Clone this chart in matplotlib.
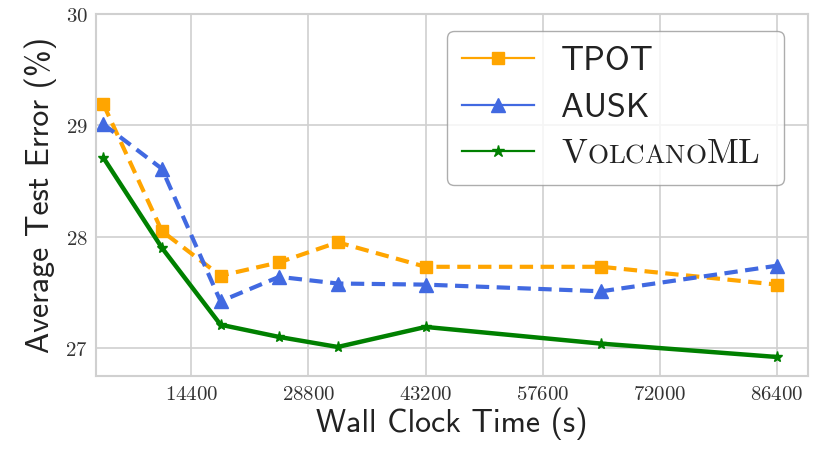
import numpy as np
import matplotlib
matplotlib.use('Agg')
import matplotlib.pyplot as plt
from matplotlib.ticker import FuncFormatter
from matplotlib.lines import Line2D

plt.rcParams['mathtext.fontset'] = 'cm'

######### Data #########
time_s = [3600, 10800, 18000, 25200, 32400, 43200, 64800, 86400]
err_tpot = [29.19, 28.05, 27.65, 27.77, 27.95, 27.73, 27.73, 27.57]
err_ausk = [29.01, 28.61, 27.42, 27.64, 27.58, 27.57, 27.51, 27.74]
err_volcano = [28.71, 27.90, 27.21, 27.10, 27.01, 27.19, 27.04, 26.92]
xticks = [14400, 28800, 43200, 57600, 72000, 86400]
yticks = [27, 28, 29, 30]

grid_col = '#d0d0d0'
colors = ['orange', 'royalblue', 'green']
markers = ['s', '^', '*']

fig, ax = plt.subplots(figsize=(8.3, 4.67), dpi=100)
fig.subplots_adjust(left=0.1157, right=0.9735, top=0.970, bottom=0.195)

ax.plot(time_s, err_tpot, color=colors[0], linestyle='--', dashes=(3.2, 1.8),
		linewidth=3, marker=markers[0], markersize=9)
ax.plot(time_s, err_ausk, color=colors[1], linestyle='--', dashes=(3.2, 1.8),
		linewidth=3, marker=markers[1], markersize=9.5)
ax.plot(time_s, err_volcano, color=colors[2], linestyle='-',
		linewidth=3.2, marker=markers[2], markersize=8)

ax.set_xlim(2700, 90200)
ax.set_ylim(26.75, 30.0)
ax.set_xticks(xticks)
ax.set_yticks(yticks)
fmt = FuncFormatter(lambda v, pos: r'$%d$' % v)
ax.xaxis.set_major_formatter(fmt)
ax.yaxis.set_major_formatter(fmt)
ax.tick_params(labelsize=15, length=0, pad=6, colors='#333333')

ax.grid(True, color=grid_col, linewidth=1.2)
ax.set_axisbelow(True)
for s in ax.spines.values():
	s.set_color(grid_col)
	s.set_linewidth(1.5)

ax.set_xlabel('Wall Clock Time (s)', family='cmss10', fontsize=23, color='#222222', labelpad=2)
ax.set_ylabel('Average Test Error (%)', family='cmss10', fontsize=23, color='#222222', labelpad=6)

# legend handles are solid thin lines
handles = [Line2D([], [], color=colors[0], linewidth=1.6, marker=markers[0], markersize=9),
		   Line2D([], [], color=colors[1], linewidth=1.6, marker=markers[1], markersize=10),
		   Line2D([], [], color=colors[2], linewidth=1.6, marker=markers[2], markersize=9)]
leg = ax.legend(handles, ['TPOT', 'AUSK', 'VOLCANOML'],
				loc='upper right', bbox_to_anchor=(0.966, 0.953), borderaxespad=0,
				prop={'family': 'cmss10', 'size': 24.5},
				handlelength=2.1, handletextpad=0.8, labelspacing=0.45,
				borderpad=0.45, framealpha=0.8, edgecolor='#999999', fancybox=True)
for t in leg.get_texts()[:2]:
	t.set_color('#222222')

# small caps for VolcanoML, built from pieces after layout
fig.canvas.draw()
renderer = fig.canvas.get_renderer()
t = leg.get_texts()[2]
x0, y0 = t.get_transform().transform(t.get_position())
t.set_visible(False)
W, H = fig.bbox.width, fig.bbox.height
pieces = [('V', 25), ('OLCANO', 19.5), ('ML', 25)]
x = x0
for s, fs in pieces:
	tx = fig.text(x / W, y0 / H, r'$\mathrm{%s}$' % s, fontsize=fs,
				  va='baseline', ha='left', color='#222222')
	x = tx.get_window_extent(renderer).x1 - 1

fig.savefig('out.png', dpi=100)
